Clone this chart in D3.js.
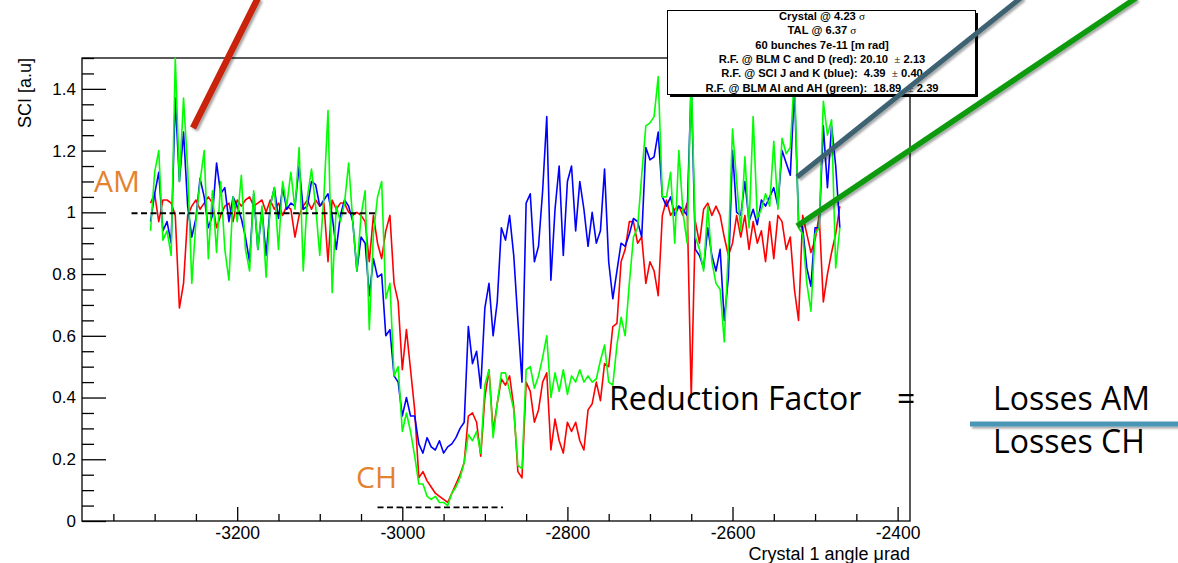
<!DOCTYPE html>
<html>
<head>
<meta charset="utf-8">
<script src="https://cdn.jsdelivr.net/npm/d3@7"></script>
<style>
    html, body { margin: 0; padding: 0; background: #fff; }
    svg { display: block; }
    text { white-space: pre; }
</style>
</head>
<body>
<div id="chart_parent"></div>
<script>
// scan angles (µrad), one reading per step
const angles = [
    -3305, -3300, -3295, -3290, -3285, -3280, -3275, -3270, -3265, -3260,
    -3255, -3250, -3245, -3240, -3235, -3230, -3225, -3220, -3215, -3210,
    -3205, -3200, -3195, -3190, -3185, -3180, -3175, -3170, -3165, -3160,
    -3155, -3150, -3145, -3140, -3135, -3130, -3125, -3120, -3115, -3110,
    -3105, -3100, -3095, -3090, -3085, -3080, -3075, -3070, -3065, -3060,
    -3055, -3050, -3045, -3040, -3035, -3030, -3025, -3020, -3015, -3010,
    -3005, -3000, -2995, -2990, -2985, -2980, -2975, -2970, -2965, -2960,
    -2955, -2950, -2945, -2940, -2935, -2930, -2925, -2920, -2915, -2910,
    -2905, -2900, -2895, -2890, -2885, -2880, -2875, -2870, -2865, -2860,
    -2855, -2850, -2845, -2840, -2835, -2830, -2825, -2820, -2815, -2810,
    -2805, -2800, -2795, -2790, -2785, -2780, -2775, -2770, -2765, -2760,
    -2755, -2750, -2745, -2740, -2735, -2730, -2725, -2720, -2715, -2710,
    -2705, -2700, -2695, -2690, -2685, -2680, -2675, -2670, -2665, -2660,
    -2655, -2650, -2645, -2640, -2635, -2630, -2625, -2620, -2615, -2610,
    -2605, -2600, -2595, -2590, -2585, -2580, -2575, -2570, -2565, -2560,
    -2555, -2550, -2545, -2540, -2535, -2530, -2525, -2520, -2515, -2510,
    -2505, -2500, -2495, -2490, -2485, -2480, -2475, -2470,
];

// BLM C and D
const redValues = [
    1.03, 1.06, 0.97, 1.04, 1.04, 1.03, 0.99, 0.69, 0.77, 0.99,
    1.02, 1.04, 1.01, 1.03, 1.05, 1.03, 0.95, 0.99, 1.02, 1.03,
    0.97, 1.04, 1.02, 1.04, 1.05, 1.02, 1.03, 1.04, 1.00, 1.04,
    1.01, 1.03, 0.99, 1.02, 1.01, 0.92, 0.99, 1.02, 1.04, 1.01,
    1.04, 1.02, 1.03, 0.84, 1.04, 1.01, 1.03, 1.03, 1.00, 0.99,
    1.00, 0.99, 0.97, 0.84, 0.99, 0.90, 0.85, 0.94, 0.99, 0.77,
    0.71, 0.49, 0.62, 0.49, 0.36, 0.14, 0.16, 0.13, 0.11, 0.09,
    0.08, 0.07, 0.06, 0.09, 0.12, 0.15, 0.19, 0.34, 0.35, 0.32,
    0.21, 0.40, 0.49, 0.29, 0.38, 0.46, 0.44, 0.47, 0.37, 0.16,
    0.14, 0.45, 0.42, 0.32, 0.36, 0.45, 0.48, 0.23, 0.33, 0.26,
    0.22, 0.32, 0.29, 0.32, 0.26, 0.23, 0.36, 0.38, 0.45, 0.39,
    0.51, 0.50, 0.63, 0.64, 0.84, 0.88, 0.97, 0.97, 0.90, 0.92,
    0.77, 0.84, 0.81, 0.73, 0.99, 1.04, 0.99, 1.01, 1.02, 0.99,
    1.03, 0.40, 0.97, 0.90, 1.01, 1.03, 0.99, 1.02, 0.99, 0.92,
    0.86, 0.90, 0.99, 0.92, 0.99, 0.88, 0.97, 0.90, 0.94, 0.84,
    0.97, 0.85, 0.99, 0.97, 0.88, 0.92, 0.75, 0.65, 0.99, 0.93,
    0.87, 0.91, 0.99, 0.71, 0.80, 0.87, 0.93, 1.02,
];

// SCI J and K
const blueValues = [
    0.97, 1.06, 1.13, 0.94, 0.97, 0.90, 1.37, 1.10, 1.26, 1.02,
    0.92, 0.98, 1.11, 1.05, 0.95, 0.99, 1.16, 1.06, 1.08, 0.97,
    1.05, 1.02, 0.98, 0.92, 0.84, 1.06, 0.88, 1.01, 0.86, 1.02,
    1.08, 0.98, 1.08, 1.01, 1.03, 1.02, 1.15, 1.01, 1.02, 1.10,
    1.09, 1.02, 1.04, 1.06, 0.99, 0.88, 0.99, 1.04, 1.02, 0.97,
    0.81, 0.92, 0.90, 0.73, 0.85, 0.79, 0.80, 0.60, 0.62, 0.47,
    0.45, 0.34, 0.40, 0.34, 0.34, 0.25, 0.22, 0.27, 0.24, 0.23,
    0.26, 0.22, 0.24, 0.25, 0.27, 0.30, 0.32, 0.63, 0.51, 0.55,
    0.43, 0.69, 0.77, 0.60, 0.71, 0.95, 0.91, 0.99, 0.86, 0.65,
    0.45, 1.03, 1.06, 0.84, 0.89, 1.07, 1.31, 0.78, 1.01, 1.15,
    0.86, 1.10, 1.15, 0.94, 1.10, 1.01, 0.89, 1.00, 0.90, 0.94,
    1.14, 0.84, 0.72, 0.81, 0.90, 0.89, 0.93, 0.98, 0.97, 0.92,
    1.21, 1.17, 1.18, 1.26, 1.05, 1.02, 1.05, 0.99, 1.02, 1.01,
    0.99, 1.42, 0.88, 0.86, 0.82, 0.95, 0.86, 0.81, 0.88, 0.65,
    0.79, 1.20, 1.00, 0.99, 1.10, 0.97, 1.01, 0.96, 1.04, 1.02,
    1.05, 1.08, 1.02, 1.20, 1.16, 1.12, 1.40, 0.97, 0.95, 0.82,
    0.76, 0.95, 0.95, 1.28, 1.08, 1.28, 1.15, 0.95,
];

// BLM AI and AH
const greenValues = [
    0.94, 1.13, 1.20, 0.91, 0.94, 0.86, 1.50, 1.10, 1.37, 1.14,
    0.77, 0.97, 1.10, 1.20, 0.85, 1.07, 0.87, 1.10, 0.88, 0.78,
    1.05, 0.97, 1.12, 0.88, 0.81, 1.07, 0.88, 1.02, 0.79, 1.02,
    1.08, 0.88, 1.10, 1.02, 1.13, 1.01, 1.21, 0.81, 1.05, 1.14,
    1.02, 0.86, 1.05, 1.33, 0.74, 1.02, 0.97, 1.03, 1.16, 0.97,
    0.81, 0.99, 1.07, 0.62, 0.93, 1.05, 1.10, 0.72, 0.77, 0.47,
    0.50, 0.29, 0.35, 0.29, 0.21, 0.12, 0.12, 0.08, 0.07, 0.08,
    0.06, 0.06, 0.05, 0.09, 0.11, 0.14, 0.19, 0.28, 0.26, 0.29,
    0.22, 0.44, 0.49, 0.27, 0.38, 0.48, 0.48, 0.42, 0.36, 0.18,
    0.17, 0.49, 0.50, 0.43, 0.47, 0.53, 0.60, 0.40, 0.48, 0.42,
    0.49, 0.41, 0.47, 0.45, 0.49, 0.45, 0.47, 0.45, 0.46, 0.52,
    0.57, 0.45, 0.44, 0.57, 0.66, 0.60, 0.77, 0.92, 0.95, 1.12,
    1.28, 1.29, 1.31, 1.44, 1.05, 1.05, 1.13, 0.90, 1.20, 1.00,
    0.90, 1.45, 0.92, 0.88, 0.81, 1.02, 0.84, 0.77, 0.75, 0.58,
    0.88, 1.27, 1.10, 0.94, 1.18, 0.95, 1.31, 0.98, 1.01, 1.06,
    1.02, 1.23, 1.01, 1.24, 1.19, 1.21, 1.45, 0.95, 0.93, 0.77,
    0.68, 0.93, 0.95, 1.36, 1.25, 1.30, 0.82, 0.95,
];

const xMajorTicks = [-3200, -3000, -2800, -2600, -2400];
const yMajorTicks = [0, 0.2, 0.4, 0.6, 0.8, 1, 1.2, 1.4];

// reference levels: amorphous (AM) and channeling (CH)
const levelNames = ['AM', 'CH'];
const levelFrom = [-3328, -3030];
const levelTo = [-3030, -2878];
const levelValues = [0.997, 0.044];

const legendLines = [
    ['Crystal @ 4.23 ', 'σ', ''],
    ['TAL @ 6.37 ', 'σ', ''],
    ['60 bunches 7e-11 [m rad]', '', ''],
    ['R.F. @ BLM C and D (red): 20.10  ', '±', ' 2.13'],
    ['R.F. @ SCI J and K (blue):  4.39  ', '±', ' 0.40'],
    ['R.F. @ BLM AI and AH (green):  18.89  ', '±', ' 2.39'],
];

const chartConfig = {
    outerWidth: 1178,
    outerHeight: 563,
    frame: { left: 82, right: 910, top: 58, bottom: 521 },
    xDomain: [-3388, -2385],
    yDomain: [0, 1.5],
    axisFont: '"Liberation Sans", Arial, Helvetica, sans-serif',
    noteFont: '"Open Sans", "Noto Sans", sans-serif',
};

function initialiseChartElements(rootSelector, config) {
    const svg = d3.select(rootSelector).append('svg')
        .attr('width', config.outerWidth)
        .attr('height', config.outerHeight);

    // soft drop shadow for the slide annotations (user space so flat lines keep it)
    const shadow = svg.append('defs').append('filter')
        .attr('id', 'shadow')
        .attr('filterUnits', 'userSpaceOnUse')
        .attr('x', -50).attr('y', -50)
        .attr('width', config.outerWidth + 100)
        .attr('height', config.outerHeight + 100);
    shadow.append('feDropShadow')
        .attr('dx', 2).attr('dy', 2)
        .attr('stdDeviation', 1.2)
        .attr('flood-color', '#000')
        .attr('flood-opacity', 0.35);

    return {
        svg,
        axesGroup: svg.append('g').attr('class', 'axes'),
        seriesGroup: svg.append('g').attr('class', 'series'),
        legendGroup: svg.append('g').attr('class', 'legend'),
        notesGroup: svg.append('g').attr('class', 'notes'),
    };
}

function drawAxes(g, config, xScale, yScale) {
    const f = config.frame;

    // minor ticks every 50 µrad / 0.05
    const xMinor = d3.range(-3350, -2399, 50).filter(v => !xMajorTicks.includes(v));
    const yMinor = d3.range(0, 31).map(k => k * 0.05)
        .filter(v => !yMajorTicks.some(t => Math.abs(t - v) < 1e-6));

    g.append('g')
        .attr('transform', `translate(0,${f.bottom})`)
        .call(d3.axisBottom(xScale).tickValues(xMinor).tickSize(-7).tickFormat(''))
        .call(a => a.select('.domain').remove());

    g.append('g')
        .attr('transform', `translate(0,${f.bottom})`)
        .call(d3.axisBottom(xScale).tickValues(xMajorTicks).tickSize(-14).tickPadding(6)
            .tickFormat(d => String(d)))
        .call(a => a.select('.domain').remove())
        .call(a => a.selectAll('text')
            .attr('font-family', config.axisFont)
            .attr('font-size', 17.5)
            .attr('fill', '#000'));

    g.append('g')
        .attr('transform', `translate(${f.left},0)`)
        .call(d3.axisLeft(yScale).tickValues(yMinor).tickSize(-12).tickFormat(''))
        .call(a => a.select('.domain').remove());

    g.append('g')
        .attr('transform', `translate(${f.left},0)`)
        .call(d3.axisLeft(yScale).tickValues(yMajorTicks).tickSize(-24).tickPadding(6)
            .tickFormat(d => String(d)))
        .call(a => a.select('.domain').remove())
        .call(a => a.selectAll('text')
            .attr('font-family', config.axisFont)
            .attr('font-size', 17)
            .attr('fill', '#000'));

    g.selectAll('.tick line').attr('stroke', '#000').attr('stroke-width', 1.3);

    // frame
    g.append('rect')
        .attr('x', f.left).attr('y', f.top)
        .attr('width', f.right - f.left).attr('height', f.bottom - f.top)
        .attr('fill', 'none')
        .attr('stroke', '#000')
        .attr('stroke-width', 1.3);

    g.append('text')
        .attr('x', f.right).attr('y', 559.5)
        .attr('text-anchor', 'end')
        .attr('font-family', config.axisFont)
        .attr('font-size', 18)
        .text('Crystal 1 angle μrad');

    g.append('text')
        .attr('transform', `translate(31,${f.top}) rotate(-90)`)
        .attr('text-anchor', 'end')
        .attr('font-family', config.axisFont)
        .attr('font-size', 18)
        .text('SCI [a.u]');
}

function drawSeries(g, xScale, yScale) {
    const series = [
        { values: redValues, color: '#ff0000' },
        { values: blueValues, color: '#0000ff' },
        { values: greenValues, color: '#00ff00' },
    ];
    const line = d3.line()
        .x(d => xScale(d[0]))
        .y(d => yScale(d[1]));

    g.selectAll('.scan')
        .data(series)
        .enter()
        .append('path')
        .attr('class', 'scan')
        .attr('d', s => line(angles.map((a, i) => [a, s.values[i]])))
        .attr('fill', 'none')
        .attr('stroke', s => s.color)
        .attr('stroke-width', 1.6)
        .attr('stroke-linejoin', 'round');

    g.selectAll('.level')
        .data(levelNames)
        .enter()
        .append('line')
        .attr('class', 'level')
        .attr('x1', (d, i) => xScale(levelFrom[i]))
        .attr('x2', (d, i) => xScale(levelTo[i]))
        .attr('y1', (d, i) => yScale(levelValues[i]))
        .attr('y2', (d, i) => yScale(levelValues[i]))
        .attr('stroke', '#000')
        .attr('stroke-width', 1.8)
        .attr('stroke-dasharray', '6,3.5');
}

function drawLegend(g) {
    g.append('rect')
        .attr('x', 670).attr('y', 13)
        .attr('width', 308).attr('height', 84)
        .attr('fill', '#000');
    g.append('rect')
        .attr('x', 667.5).attr('y', 10.5)
        .attr('width', 308).attr('height', 84)
        .attr('fill', '#fff')
        .attr('stroke', '#000')
        .attr('stroke-width', 1);

    const rows = g.selectAll('.legend-row')
        .data(legendLines)
        .enter()
        .append('text')
        .attr('class', 'legend-row')
        .attr('x', 822)
        .attr('y', (d, i) => 19.7 + i * 14.4)
        .attr('text-anchor', 'middle')
        .attr('font-family', '"Liberation Sans", Arial, sans-serif')
        .attr('font-size', 11.2)
        .attr('font-weight', 'bold');

    rows.append('tspan').text(d => d[0]);
    rows.append('tspan')
        .attr('font-family', '"Liberation Serif", "DejaVu Serif", serif')
        .attr('font-weight', 'normal')
        .text(d => d[1]);
    rows.append('tspan').text(d => d[2]);
}

function drawNotes(g, config) {
    const orange = '#e5822f';
    g.append('text')
        .attr('x', 94).attr('y', 192)
        .attr('font-family', config.noteFont)
        .attr('font-size', 30)
        .attr('fill', orange)
        .text('AM');
    g.append('text')
        .attr('x', 356).attr('y', 488)
        .attr('font-family', config.noteFont)
        .attr('font-size', 30)
        .attr('fill', orange)
        .text('CH');

    const words = [
        { x: 609, y: 410, t: 'Reduction Factor' },
        { x: 897, y: 410, t: '=' },
        { x: 993, y: 410, t: 'Losses AM' },
        { x: 993, y: 453, t: 'Losses CH' },
    ];
    g.selectAll('.formula')
        .data(words)
        .enter()
        .append('text')
        .attr('class', 'formula')
        .attr('x', d => d.x)
        .attr('y', d => d.y)
        .attr('font-family', config.noteFont)
        .attr('font-size', 32)
        .attr('fill', '#000')
        .text(d => d.t);

    const pointers = [
        { x1: 970, y1: 424, x2: 1180, y2: 424, color: '#4a96b6', w: 5 },
        { x1: 193, y1: 128, x2: 258, y2: -2, color: '#c9240a', w: 6.5 },
        { x1: 797, y1: 177, x2: 1022, y2: -3, color: '#3e6272', w: 5 },
        { x1: 797, y1: 226, x2: 1136, y2: -2, color: '#0c9a10', w: 5.5 },
    ];
    g.selectAll('.pointer')
        .data(pointers)
        .enter()
        .append('line')
        .attr('class', 'pointer')
        .attr('x1', d => d.x1).attr('y1', d => d.y1)
        .attr('x2', d => d.x2).attr('y2', d => d.y2)
        .attr('stroke', d => d.color)
        .attr('stroke-width', d => d.w)
        .attr('filter', 'url(#shadow)');
}

function updateChart(config, elements) {
    const f = config.frame;
    const xScale = d3.scaleLinear().domain(config.xDomain).range([f.left, f.right]);
    const yScale = d3.scaleLinear().domain(config.yDomain).range([f.bottom, f.top]);

    drawSeries(elements.seriesGroup, xScale, yScale);
    drawAxes(elements.axesGroup, config, xScale, yScale);
    drawLegend(elements.legendGroup);
    drawNotes(elements.notesGroup, config);
}

const chartElements = initialiseChartElements('#chart_parent', chartConfig);
updateChart(chartConfig, chartElements);
</script>
</body>
</html>
